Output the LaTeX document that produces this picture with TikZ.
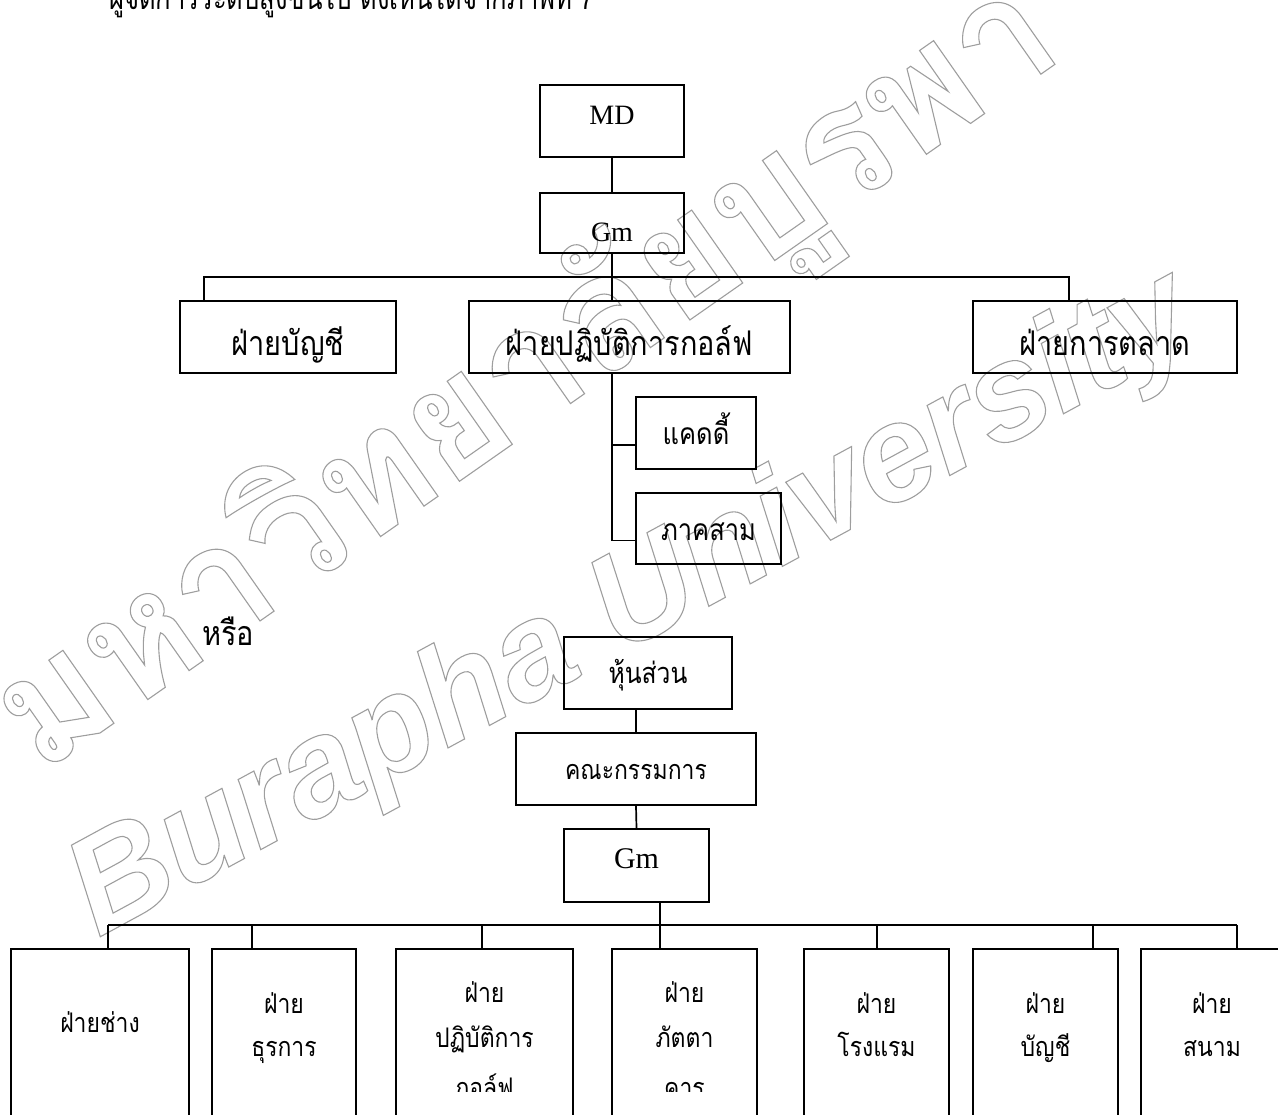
\documentclass[tikz,border=0pt]{standalone}
\usepackage{fontspec}
\setmainfont{Liberation Serif}
\newfontfamily\thai[Script=Thai,FakeStretch=0.85]{Loma}
\newfontfamily\thainarrow[Script=Thai,FakeStretch=0.8]{Loma}
\newfontfamily\wmthai[Script=Thai]{Loma}
\newfontfamily\wmlatin{Liberation Sans}
% hollow (stroked only) glyphs for the background stamp
\newcommand\strokedtext[1]{\special{pdf:literal direct 1 Tr 1.1 w 0.62 G}#1\special{pdf:literal direct 0 Tr}}
\newcommand\fs[1]{\fontsize{#1}{#1}\selectfont}

\begin{document}
\begin{tikzpicture}[x=1pt,y=-1pt,
  box/.style={draw,line width=1.7pt,inner sep=0pt,rectangle},
  wire/.style={line width=1.7pt},
  bigthai/.style={font=\thai\fs{34}},
  midthai/.style={font=\thai\fs{30}},
  smallthai/.style={font=\thai\fs{27}},
  latin/.style={font=\fs{28}},
  lbl/.style={inner sep=0pt,anchor=base},
]
\useasboundingbox (0,0) rectangle (1278,1115);
\clip (0,0) rectangle (1278,1115);

% background stamp
\node[inner sep=0pt,anchor=base west,rotate=35] (stampth) at (40,775)
  {\wmthai\bfseries\fs{160}\strokedtext{มหาวิทยาลัยบูรพา}};
\node[inner sep=0pt,anchor=base west,rotate=28.5] (stampen) at (98,938)
  {\wmlatin\bfseries\itshape\fs{137}\strokedtext{Burapha University}};

% running line of text at the top
\node[lbl,anchor=base west,font=\thainarrow\fs{32}] (head) at (109,10)
  {ผู้จัดการระดับสูงขึ้นไป ดังเห็นได้จากภาพที่ 7};

% ---------- first chart ----------
\node[box,minimum width=144pt,minimum height=72pt,latin,text height=17pt,text depth=9pt] (md) at (612,121) {MD};
\node[box,minimum width=144pt,minimum height=60pt,latin,text height=40pt,text depth=2pt] (gm) at (612,223) {Gm};

\node[box,minimum width=216pt,minimum height=72pt,bigthai,text height=40pt,text depth=2pt] (acct) at (288,337) {ฝ่ายบัญชี};
\node[box,minimum width=321pt,minimum height=72pt,bigthai,text height=40pt,text depth=2pt] (golf) at (629.5,337) {ฝ่ายปฏิบัติการกอล์ฟ};
\node[box,minimum width=264pt,minimum height=72pt,bigthai,text height=40pt,text depth=2pt] (mkt) at (1105,337) {ฝ่ายการตลาด};

\node[box,minimum width=120pt,minimum height=72pt,midthai,text height=24pt,text depth=2pt] (cad) at (696,433) {แคดดี้};
\node[box,minimum width=145pt,minimum height=71pt,midthai,text height=26pt,text depth=2pt] (pk) at (708.5,528.5) {ภาคสาม};

\coordinate (tl) at (204,277);
\coordinate (tr) at (1069,277);
\coordinate (cadj) at ([yshift=-12pt]cad.west);
\coordinate (pkj) at ([yshift=-12pt]pk.west);

\draw[wire] (md) -- (gm);
\draw[wire] (gm.south) -- (gm.south |- golf.north);
\draw[wire] (tl |- acct.north) -- (tl) -- (tr) -- (tr |- mkt.north);
\draw[wire] (gm.south |- golf.south) -- (gm.south |- pkj) -- (pkj);
\draw[wire] (gm.south |- cadj) -- (cadj);

% ---------- second chart ----------
\node[lbl,bigthai] (or) at (228,645) {หรือ};

\node[box,minimum width=168pt,minimum height=72pt,font=\thai\fs{29},text height=22pt,text depth=2pt] (hs) at (648,673) {หุ้นส่วน};
\node[box,minimum width=240pt,minimum height=72pt,smallthai,text height=22pt,text depth=2pt] (kk) at (636,769) {คณะกรรมการ};
\node[box,minimum width=145pt,minimum height=73pt,font=\fs{30},text height=21pt,text depth=16pt] (gm2) at (636.5,865.5) {Gm};

\node[box,minimum width=178pt,minimum height=231pt] (b1) at (100,1064.5) {};
\node[box,minimum width=144pt,minimum height=231pt] (b2) at (284,1064.5) {};
\node[box,minimum width=177pt,minimum height=231pt] (b3) at (484.5,1064.5) {};
\node[box,minimum width=145pt,minimum height=231pt] (b4) at (684.5,1064.5) {};
\node[box,minimum width=145pt,minimum height=231pt] (b5) at (876.5,1064.5) {};
\node[box,minimum width=145pt,minimum height=231pt] (b6) at (1045.5,1064.5) {};
\node[box,minimum width=142pt,minimum height=231pt] (b7) at (1212,1064.5) {};

\node[lbl,smallthai] (t1) at (b1 |- 0,1032) {ฝ่ายช่าง};
\node[lbl,smallthai] (t2a) at (b2 |- 0,1013) {ฝ่าย};
\node[lbl,smallthai] (t2b) at (b2 |- 0,1056) {ธุรการ};
\node[lbl,smallthai] (t3a) at (b3 |- 0,1002) {ฝ่าย};
\node[lbl,smallthai] (t3b) at (b3 |- 0,1047) {ปฏิบัติการ};
\node[lbl,smallthai] (t4a) at (b4 |- 0,1002) {ฝ่าย};
\node[lbl,smallthai] (t4b) at (b4 |- 0,1047) {ภัตตา};
% the third lines run past the lower edge of their text frames
\begin{scope}
  \clip (0,0) rectangle (1278,1091);
  \node[lbl,smallthai] (t3c) at (b3 |- 0,1097) {กอล์ฟ};
  \node[lbl,smallthai] (t4c) at (b4 |- 0,1097) {คาร};
\end{scope}
\node[lbl,smallthai] (t5a) at (b5 |- 0,1013) {ฝ่าย};
\node[lbl,smallthai] (t5b) at (b5 |- 0,1056) {โรงแรม};
\node[lbl,smallthai] (t6a) at (b6 |- 0,1013) {ฝ่าย};
\node[lbl,smallthai] (t6b) at (b6 |- 0,1056) {บัญชี};
\node[lbl,smallthai] (t7a) at (b7 |- 0,1013) {ฝ่าย};
\node[lbl,smallthai] (t7b) at (b7 |- 0,1056) {สนาม};

\coordinate (j1) at (108,925);
\coordinate (j2) at (252,925);
\coordinate (j3) at (482,925);
\coordinate (j4) at (660,925);
\coordinate (j5) at (877,925);
\coordinate (j6) at (1093,925);
\coordinate (j7) at (1237,925);

\draw[wire] (kk.north |- hs.south) -- (kk.north);
\draw[wire] (kk.south) -- (gm2.north);
\draw[wire] (j4 |- gm2.south) -- (j4);
\draw[wire] (j1) -- (j7);
\foreach \j/\b in {j1/b1,j2/b2,j3/b3,j4/b4,j5/b5,j6/b6,j7/b7}
  \draw[wire] (\j) -- (\j |- \b.north);
\end{tikzpicture}
\end{document}
